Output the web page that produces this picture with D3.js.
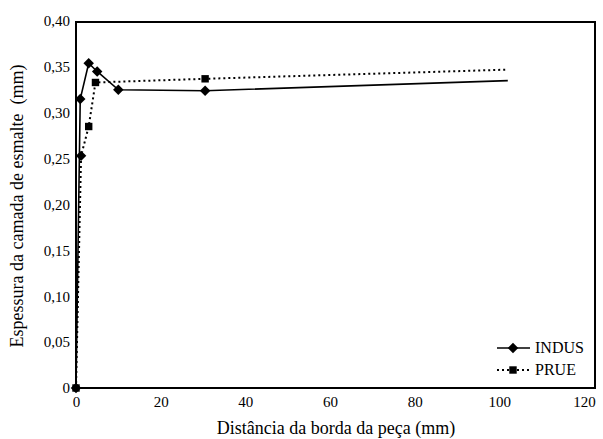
<!DOCTYPE html>
<html lang="en">
  <head>
    <meta charset="UTF-8" />
    <title>Espessura da camada de esmalte</title>
    <script src="https://d3js.org/d3.v7.min.js"></script>
    <style>
      body {
        margin: 0;
        background: #fff;
      }
      svg {
        display: block;
      }
    </style>
  </head>
  <body>
    <svg width="603" height="439"></svg>
    <script>
      // data
      const indusX = [0, 1, 3, 5, 10, 30.5, 102];
      const indusY = [0, 0.315, 0.354, 0.345, 0.325, 0.324, 0.335];
      const prueX = [0, 1.2, 3, 4.6, 30.5, 102];
      const prueY = [0, 0.253, 0.285, 0.333, 0.337, 0.347];
      const xTicks = [0, 20, 40, 60, 80, 100, 120];
      const yTicks = [0, 0.05, 0.1, 0.15, 0.2, 0.25, 0.3, 0.35, 0.4];
      const seriesNames = ["INDUS", "PRUE"];

      const FONT = "Liberation Serif";
      const svg = d3.select("svg");

      // plot frame
      const frame = { left: 76, right: 595, top: 22, bottom: 388 };

      const x = d3.scaleLinear().domain([0, 120]).range([76, 584]);
      const y = d3.scaleLinear().domain([0, 0.4]).range([388, 21]);

      const fmt = (v) => (v === 0 ? "0" : d3.format(".2f")(v).replace(".", ","));

      svg
        .append("rect")
        .attr("x", frame.left)
        .attr("y", frame.top)
        .attr("width", frame.right - frame.left)
        .attr("height", frame.bottom - frame.top)
        .attr("fill", "none")
        .attr("stroke", "#000")
        .attr("stroke-width", 2);

      // axes (labels only, no tick marks)
      const xAxis = svg
        .append("g")
        .attr("transform", `translate(0,${frame.bottom})`)
        .call(d3.axisBottom(x).tickValues(xTicks).tickSize(0).tickPadding(8));
      const yAxis = svg
        .append("g")
        .attr("transform", `translate(${frame.left},0)`)
        .call(
          d3.axisLeft(y).tickValues(yTicks).tickSize(0).tickPadding(6).tickFormat(fmt)
        );
      [xAxis, yAxis].forEach((a) => {
        a.select(".domain").remove();
        a.selectAll("text")
          .style("font-family", FONT)
          .style("font-size", "15px")
          .attr("fill", "#000");
      });

      // axis titles
      svg
        .append("text")
        .attr("x", 336)
        .attr("y", 434)
        .attr("text-anchor", "middle")
        .style("font-family", FONT)
        .style("font-size", "18px")
        .text("Distância da borda da peça (mm)");
      svg
        .append("text")
        .attr("transform", "translate(23,206) rotate(-90)")
        .attr("text-anchor", "middle")
        .style("font-family", FONT)
        .style("font-size", "18px")
        .style("white-space", "pre")
        .text("Espessura da camada de esmalte  (mm)");

      const diamond = d3.symbol().type(d3.symbolDiamond2).size(70);
      const square = d3.symbol().type(d3.symbolSquare).size(55);

      const indus = indusX.map((v, i) => [v, indusY[i]]);
      const prue = prueX.map((v, i) => [v, prueY[i]]);
      const line = d3
        .line()
        .x((d) => x(d[0]))
        .y((d) => y(d[1]));

      svg
        .append("path")
        .datum(prue)
        .attr("d", line)
        .attr("fill", "none")
        .attr("stroke", "#000")
        .attr("stroke-width", 2)
        .attr("stroke-dasharray", "2,3");

      svg
        .append("path")
        .datum(indus)
        .attr("d", line)
        .attr("fill", "none")
        .attr("stroke", "#000")
        .attr("stroke-width", 1.6);

      // markers (last point of each series has none)
      svg
        .selectAll(".m-indus")
        .data(indus.slice(0, -1))
        .join("path")
        .attr("transform", (d) => `translate(${x(d[0])},${y(d[1])})`)
        .attr("d", diamond);

      svg
        .selectAll(".m-prue")
        .data(prue.slice(0, -1))
        .join("path")
        .attr("transform", (d) => `translate(${x(d[0])},${y(d[1])})`)
        .attr("d", (d, i) => (i === 1 ? diamond() : square()));

      // legend
      const legend = svg.append("g");
      seriesNames.forEach((name, i) => {
        const ly = 348 + i * 22;
        legend
          .append("line")
          .attr("x1", 497)
          .attr("x2", 530)
          .attr("y1", ly)
          .attr("y2", ly)
          .attr("stroke", "#000")
          .attr("stroke-width", i === 0 ? 1.6 : 2)
          .attr("stroke-dasharray", i === 0 ? null : "2,3");
        legend
          .append("path")
          .attr("transform", `translate(513,${ly})`)
          .attr("d", i === 0 ? diamond() : square());
        legend
          .append("text")
          .attr("x", 535)
          .attr("y", ly + 5)
          .style("font-family", FONT)
          .style("font-size", "16px")
          .text(name);
      });
    </script>
  </body>
</html>
